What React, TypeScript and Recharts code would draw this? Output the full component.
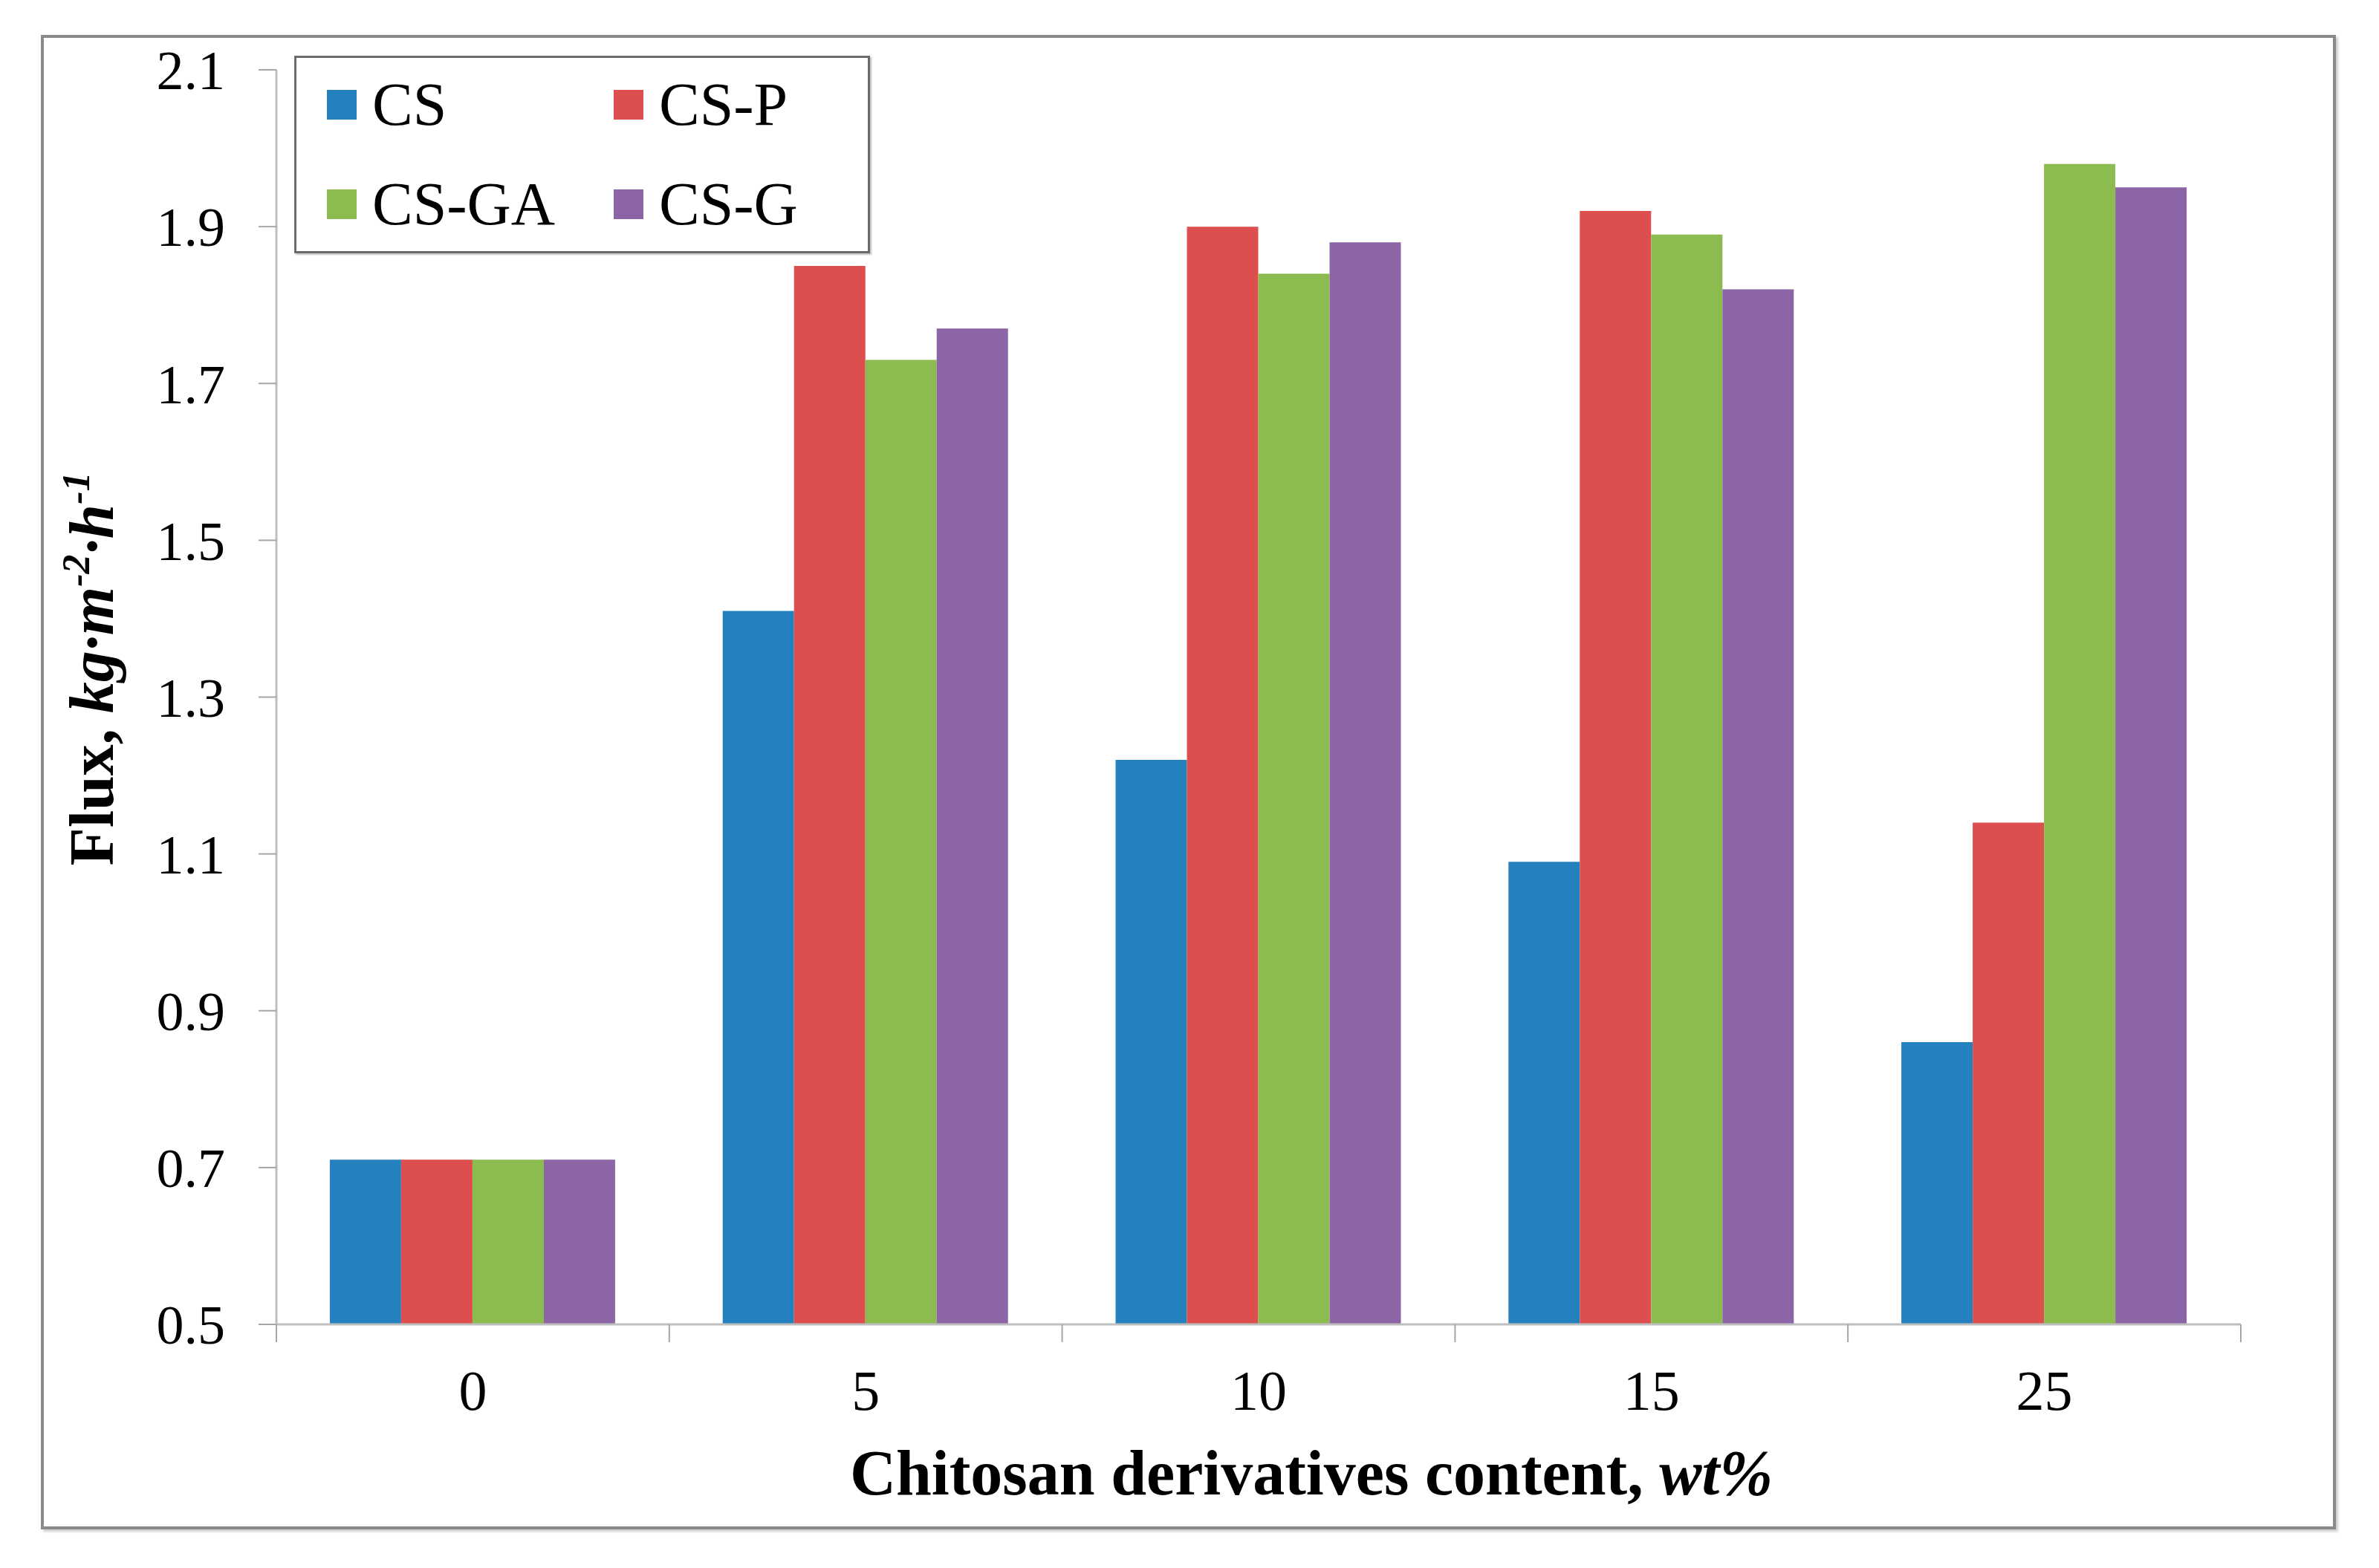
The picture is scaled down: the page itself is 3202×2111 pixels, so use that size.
import React from 'react';
import { BarChart, Bar, XAxis, YAxis, Legend } from 'recharts';

const categories = ['0', '5', '10', '15', '25'];
const csValues = [0.71, 1.41, 1.22, 1.09, 0.86];
const cspValues = [0.71, 1.85, 1.9, 1.92, 1.14];
const csgaValues = [0.71, 1.73, 1.84, 1.89, 1.98];
const csgValues = [0.71, 1.77, 1.88, 1.82, 1.95];
const yTicks = [0.5, 0.7, 0.9, 1.1, 1.3, 1.5, 1.7, 1.9, 2.1];
const seriesNames = ['CS', 'CS-P', 'CS-GA', 'CS-G'];
const seriesColors = ['#2481BE', '#DC4F4E', '#8CBB50', '#8B65A5'];

const data = categories.map((c, i) => ({
  cat: c,
  CS: csValues[i],
  'CS-P': cspValues[i],
  'CS-GA': csgaValues[i],
  'CS-G': csgValues[i],
}));

const W = 3202;
const H = 2111;
const MARGIN = { top: 94, right: 186, bottom: 0, left: 0 };
const Y_AXIS_W = 372;
const X_AXIS_H = 328;
const PLOT_W = W - MARGIN.left - MARGIN.right - Y_AXIS_W;
const FONT = '"Liberation Serif", "Times New Roman", serif';
const AXIS_COLOR = '#BFBFBF';
const TICK_COLOR = '#A6A6A6';

const XTick = (props: any) => {
  const { x, y, payload, index } = props;
  const bw = PLOT_W / categories.length;
  const last = index === categories.length - 1;
  return (
    <g>
      <line x1={x - bw / 2} x2={x - bw / 2} y1={y} y2={y + 24} stroke={TICK_COLOR} strokeWidth={2} />
      {last && <line x1={x + bw / 2} x2={x + bw / 2} y1={y} y2={y + 24} stroke={TICK_COLOR} strokeWidth={2} />}
      <text x={x} y={y + 115} textAnchor="middle" fontFamily={FONT} fontSize={76} fill="#000">
        {payload.value}
      </text>
    </g>
  );
};

const LegendContent = (props: any) => {
  const payload = [...(props.payload || [])].sort(
    (a: any, b: any) => seriesNames.indexOf(a.value) - seriesNames.indexOf(b.value)
  );
  return (
    <div
      style={{
        position: 'relative',
        width: 775,
        height: 266,
        boxSizing: 'border-box',
        border: '3px solid #6B6B6B',
        background: '#fff',
        boxShadow: '2px 2px 2px rgba(0,0,0,0.25)',
      }}
    >
      {payload.map((entry: any, i: number) => (
        <div
          key={entry.value}
          style={{
            position: 'absolute',
            left: 41 + (i % 2) * 386,
            top: 63 + Math.floor(i / 2) * 134 - 45,
            height: 90,
            display: 'flex',
            alignItems: 'center',
            whiteSpace: 'nowrap',
          }}
        >
          <span style={{ display: 'inline-block', width: 40, height: 40, background: entry.color, marginRight: 21 }} />
          <span style={{ fontFamily: FONT, fontSize: 82, color: '#000', lineHeight: '90px' }}>{entry.value}</span>
        </div>
      ))}
    </div>
  );
};

const YTitle = (props: any) => {
  const vb = props.viewBox || { x: 0, y: 94, width: Y_AXIS_W, height: 1689 };
  const cy = vb.y + vb.height / 2 - 38;
  return (
    <text
      transform={`translate(152, ${cy}) rotate(-90)`}
      textAnchor="middle"
      fontFamily={FONT}
      fontWeight="bold"
      fontSize={84}
      fill="#000"
    >
      <tspan>Flux, </tspan>
      <tspan fontStyle="italic">kg·m</tspan>
      <tspan fontStyle="italic" fontSize={52} dy={-32}>-2</tspan>
      <tspan fontStyle="italic" dy={32}>·h</tspan>
      <tspan fontStyle="italic" fontSize={52} dy={-32}>-1</tspan>
    </text>
  );
};

const XTitle = (props: any) => {
  const vb = props.viewBox || { x: Y_AXIS_W, y: 1783, width: PLOT_W, height: X_AXIS_H };
  return (
    <text
      x={vb.x + vb.width / 2 + 71}
      y={vb.y + 229}
      textAnchor="middle"
      fontFamily={FONT}
      fontWeight="bold"
      fontSize={86}
      fill="#000"
    >
      <tspan>Chitosan derivatives content, </tspan>
      <tspan fontStyle="italic">wt%</tspan>
    </text>
  );
};

export default function App() {
  return (
    <div style={{ position: 'absolute', left: 0, top: 0, width: W, height: H, background: '#fff' }}>
      <div
        style={{
          position: 'absolute',
          left: 55,
          top: 47,
          width: 3089,
          height: 2012,
          boxSizing: 'border-box',
          border: '4px solid #8A8A8A',
          boxShadow: '3px 3px 3px rgba(0,0,0,0.2)',
        }}
      />
      <div style={{ position: 'absolute', left: 0, top: 0 }}>
        <BarChart width={W} height={H} data={data} margin={MARGIN} barCategoryGap="13.6%" barGap={0}>
          <XAxis
            dataKey="cat"
            height={X_AXIS_H}
            tickLine={false}
            tickSize={0}
            tickMargin={0}
            axisLine={{ stroke: AXIS_COLOR, strokeWidth: 3 }}
            tick={<XTick />}
            interval={0}
            label={{ content: (p: any) => <XTitle {...p} /> }}
          />
          <YAxis
            width={Y_AXIS_W}
            domain={[0.5, 2.1]}
            ticks={yTicks}
            allowDataOverflow
            interval={0}
            tickSize={24}
            tickMargin={45}
            tickLine={{ stroke: TICK_COLOR, strokeWidth: 2 }}
            axisLine={{ stroke: AXIS_COLOR, strokeWidth: 3 }}
            tickFormatter={(v: number) => v.toFixed(1)}
            tick={{ fontFamily: FONT, fontSize: 74, fill: '#000' }}
            label={{ content: (p: any) => <YTitle {...p} /> }}
          />
          <Legend
            layout="horizontal"
            verticalAlign="middle"
            align="center"
            content={<LegendContent />}
            wrapperStyle={{ position: 'absolute', left: 396, top: 75, width: 775, height: 266 }}
          />
          {seriesNames.map((name, i) => (
            <Bar key={name} dataKey={name} name={name} fill={seriesColors[i]} isAnimationActive={false} />
          ))}
        </BarChart>
      </div>
    </div>
  );
}
